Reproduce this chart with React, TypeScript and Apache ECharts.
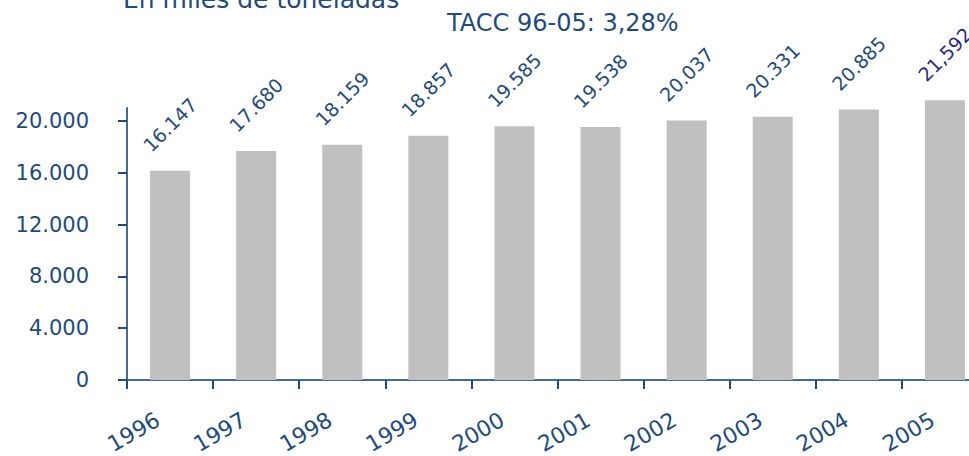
import React, { useEffect, useRef } from "react";
import * as echarts from "echarts";

const years = ["1996", "1997", "1998", "1999", "2000", "2001", "2002", "2003", "2004", "2005"];
const values = [16147, 17680, 18159, 18857, 19585, 19538, 20037, 20331, 20885, 21592];
const barLabels = ["16.147", "17.680", "18.159", "18.857", "19.585", "19.538", "20.037", "20.331", "20.885", "21,592"];
const yTicks = [0, 4000, 8000, 12000, 16000, 20000];
const titleText = "En miles de toneladas";
const subtitleText = "TACC 96-05: 3,28%";

const BLUE = "#1F4A7C";
const LAST_COLOR = "#2A2A80";
const FONT = "'DejaVu Sans', sans-serif";

function fmt(v: number): string {
  return String(v).replace(/\B(?=(\d{3})+(?!\d))/g, ".");
}

export default function App() {
  const ref = useRef<HTMLDivElement>(null);
  useEffect(() => {
    if (!ref.current) return;
    const chart = echarts.init(ref.current, null, { renderer: "svg" });
    const last = values.length - 1;
    chart.setOption({
      animation: false,
      backgroundColor: "#ffffff",
      textStyle: { fontFamily: FONT },
      graphic: [
        {
          type: "text",
          x: 123,
          y: -1,
          style: { text: titleText, font: `25px ${FONT}`, fill: BLUE, align: "left", verticalAlign: "middle" },
        },
        {
          type: "text",
          x: 447,
          y: 23,
          style: { text: subtitleText, font: `24px ${FONT}`, fill: BLUE, align: "left", verticalAlign: "middle" },
        },
      ],
      grid: {
        left: 127,
        right: -19,
        top: 108,
        bottom: 76,
        containLabel: false,
        outerBoundsMode: "none",
      },
      xAxis: {
        type: "category",
        data: years,
        boundaryGap: true,
        axisLine: { show: true, lineStyle: { color: "#456A95", width: 2 } },
        axisTick: { show: true, length: 9, lineStyle: { color: BLUE, width: 2 } },
        axisLabel: {
          rotate: 30,
          margin: 31,
          fontSize: 22,
          lineHeight: 22,
          color: BLUE,
          fontFamily: FONT,
          padding: [0, 14, 0, 0],
        },
      },
      yAxis: {
        type: "value",
        min: 0,
        max: 21000,
        interval: 4000,
        splitLine: { show: false },
        axisLine: { show: true, lineStyle: { color: "#456A95", width: 2 } },
        axisTick: { show: true, length: 9, customValues: yTicks, lineStyle: { color: BLUE, width: 2 } },
        axisLabel: {
          customValues: yTicks,
          margin: 38,
          fontSize: 21,
          color: BLUE,
          fontFamily: FONT,
          formatter: (v: number) => fmt(v),
        },
      },
      series: [
        {
          type: "bar",
          clip: false,
          barWidth: 40,
          itemStyle: { color: "#C0C0C0" },
          data: values.map((v, i) =>
            i === last ? { value: v, label: { color: LAST_COLOR } } : { value: v }
          ),
          label: {
            show: true,
            position: "top",
            distance: 46,
            rotate: 45,
            align: "center",
            verticalAlign: "middle",
            fontSize: 19,
            color: BLUE,
            fontFamily: FONT,
            formatter: (p: any) => barLabels[p.dataIndex],
          },
        },
      ],
    });
    return () => chart.dispose();
  }, []);
  return (
    <div
      ref={ref}
      style={{ position: "fixed", left: 0, top: 0, width: 969, height: 456, background: "#fff" }}
    />
  );
}
